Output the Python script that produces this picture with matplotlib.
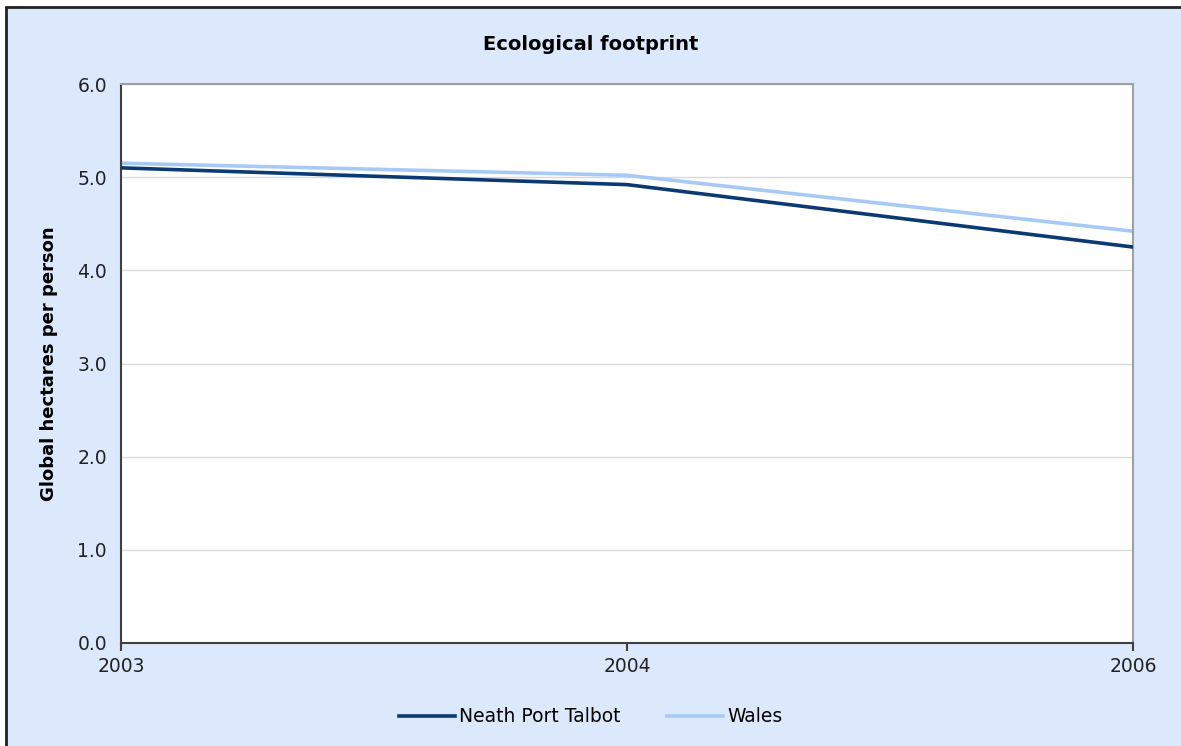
import matplotlib.pyplot as plt
from matplotlib.patches import Rectangle

years = ['2003', '2004', '2006']
neath_port_talbot = [5.10, 4.92, 4.25]
wales = [5.15, 5.02, 4.42]
y_ticks = [0, 1, 2, 3, 4, 5, 6]

bg = '#dce9fc'

fig = plt.figure(figsize=(11.81, 7.46), dpi=100)
fig.patch.set_facecolor('white')
# framed chart area (cropped on the right and bottom)
frame = Rectangle((6 / 1181, -0.05), 1.1, 1.05 - 7 / 746,
                  transform=fig.transFigure, facecolor=bg,
                  edgecolor='#222222', linewidth=2, zorder=-10)
fig.add_artist(frame)

ax = fig.add_axes([121 / 1181, 1 - 643 / 746, (1133 - 121) / 1181, (643 - 84) / 746])
ax.set_facecolor('white')

x = range(len(years))
ax.plot(x, neath_port_talbot, color='#0b3a73', lw=2.6, label='Neath Port Talbot', zorder=3)
ax.plot(x, wales, color='#a6caf5', lw=2.6, label='Wales', zorder=2)

ax.set_xlim(0, len(years) - 1)
ax.set_ylim(0, 6)
ax.set_xticks(list(x))
ax.set_xticklabels(years)
ax.set_yticks(y_ticks)
ax.set_yticklabels(['{:.1f}'.format(v) for v in y_ticks])
ax.grid(axis='y', color='#d9d9d9', lw=1)
ax.set_axisbelow(True)

for s in ['left', 'bottom']:
    ax.spines[s].set_color('#404040')
    ax.spines[s].set_linewidth(1.5)
for s in ['right', 'top']:
    ax.spines[s].set_color('#a0a0a0')
    ax.spines[s].set_linewidth(1.5)

ax.tick_params(axis='y', length=0, pad=10, labelsize=13.5, colors='#222222')
ax.tick_params(axis='x', length=6, width=1.5, color='#404040', pad=4,
               labelsize=13.5, labelcolor='#222222')

ax.set_ylabel('Global hectares per person', fontsize=13, fontweight='bold', labelpad=14)
fig.text(0.5, 1 - 44 / 746, 'Ecological footprint', ha='center', va='center',
         fontsize=14, fontweight='bold')

fig.legend(loc='center', bbox_to_anchor=(0.5, 1 - 717 / 746), ncol=2, frameon=False,
           fontsize=13.5, handlelength=3, handletextpad=0.2, columnspacing=2.5)

fig.savefig('out.png', dpi=100, facecolor=fig.get_facecolor())
